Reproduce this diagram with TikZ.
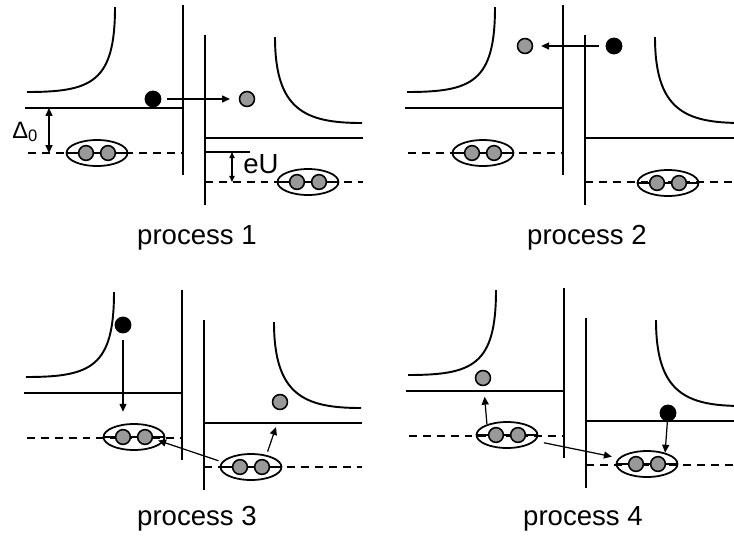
\documentclass[tikz,border=0pt]{standalone}
\usepackage{fontspec}
\setmainfont{Liberation Sans}
\usetikzlibrary{arrows.meta,
                shapes.geometric}
\tikzset{
	pics/pair/.style={
			code={
					\node[pairbox] (-e) {};
					\draw[line width=1pt] (-e.west) -- (-e.east);
					\node[hole] (-l) at (-11,0) {};
					\node[hole] (-r) at (11,0) {};
				}
		}
}

\begin{document}
\begin{tikzpicture}[x=0.02cm, y=-0.02cm,
             >= {Triangle[length=4.5pt, width=4pt]},
every edge/.style = {draw, ->, line width=0.7pt, black},
       wall/.style = {line width=1.5pt},
        lvl/.style = {line width=1.2pt},
       gapl/.style = {line width=1.2pt, dash pattern=on 4.5pt off 3.4pt},
       band/.style = {line width=1.1pt},
    pairbox/.style = {ellipse, draw, line width=1pt, minimum width=1.22cm,
                      minimum height=0.52cm, inner sep=0pt},
       hole/.style = {circle, draw, line width=0.9pt, fill=black!40,
                      minimum size=8.4pt, inner sep=0pt},
         el/.style = {circle, fill=black, minimum size=9.6pt, inner sep=0pt},
        lbl/.style = {inner sep=0pt, font=\fontsize{15.7}{18}\selectfont}
                    ]
\useasboundingbox (0,0) rectangle (734,535);
\clip (0,0) rectangle (734,535);

% the four junctions
\foreach \dx/\dy in {0/0, 380/0, -1/285, 381/283}
{
\begin{scope}[shift={(\dx,\dy)}]
\draw[wall] (183,5) -- (183,175);
\draw[wall] (205,35) -- (205,205);
\draw[band] (115,7) .. controls (115,82) and (92,92) .. (27,92);
\draw[band] (275,37) .. controls (275,110) and (305,123) .. (362,123);
\draw[lvl]  (25,108) -- (183,108);
\draw[lvl]  (205,138) -- (363,138);
\draw[gapl] (28,153) -- (183,153);
\draw[gapl] (205,182) -- (363,182);
\end{scope}
}

% process 1
\pic (p1a) at (97,153) {pair};
\pic (p1b) at (308,182) {pair};
\node[el] (e1) at (153,99) {};
\node[hole, minimum size=8.5pt] (h1) at (247,99) {};
\draw (e1) edge[shorten <=3pt, shorten >=5pt] (h1);
\coordinate (d0a) at (49,108);
\coordinate (d0b) at (49,153);
\draw (d0a) edge[<->] (d0b);
\node[lbl, anchor=base west, font=\fontsize{13.5}{16}\selectfont] (d0) at (12,138) {Δ\textsubscript{0}};
\coordinate (ua) at (205,152);
\coordinate (ub) at (250,152);
\draw[lvl] (ua) -- (ub);
\coordinate (uc) at (232,152);
\coordinate (ud) at (232,182);
\draw (uc) edge[{Triangle[length=3.5pt,width=3pt]}-{Triangle[length=3.5pt,width=3pt]}] (ud);
\node[lbl, anchor=base west] (eu) at (243,173) {eU};

% process 2
\pic (p2a) at (483,153) {pair};
\pic (p2b) at (668,183) {pair};
\node[hole, minimum size=8.5pt] (h2) at (525,46) {};
\node[el] (e2) at (614,46) {};
\draw (e2) edge[shorten <=3.4pt, shorten >=4.5pt] (h2);

% process 3
\pic (p3a) at (134,437) {pair};
\pic (p3b) at (251,467) {pair};
\node[el] (e3) at (123,325) {};
\node[hole, minimum size=8.5pt] (h3) at (280,402) {};
\coordinate (c3) at (276,427);
\draw (e3) edge[shorten <=3.7pt, shorten >=6.5pt] (e3 |- p3a-e.north)
      (p3b-e.170) edge[shorten <=2pt, shorten >=-3pt] (p3a-e.-10)
      (p3b-e.38) edge[shorten <=2pt] (c3);

% process 4
\pic (p4a) at (507,435) {pair};
\pic (p4b) at (647,464) {pair};
\node[hole, minimum size=8.5pt] (h4) at (483,378) {};
\node[el] (e4) at (668,413) {};
\draw (p4a-e.152) edge[shorten >=6pt] (h4)
      (p4a-e.-12) edge[shorten <=5pt, shorten >=4pt] (p4b-e.168)
      (e4) edge (p4b-e.32);

\node[lbl, anchor=base] (t1) at (197,244) {process 1};
\node[lbl, anchor=base] (t2) at (587,244) {process 2};
\node[lbl, anchor=base] (t3) at (197,525) {process 3};
\node[lbl, anchor=base] (t4) at (583,525) {process 4};
\end{tikzpicture}
\end{document}
